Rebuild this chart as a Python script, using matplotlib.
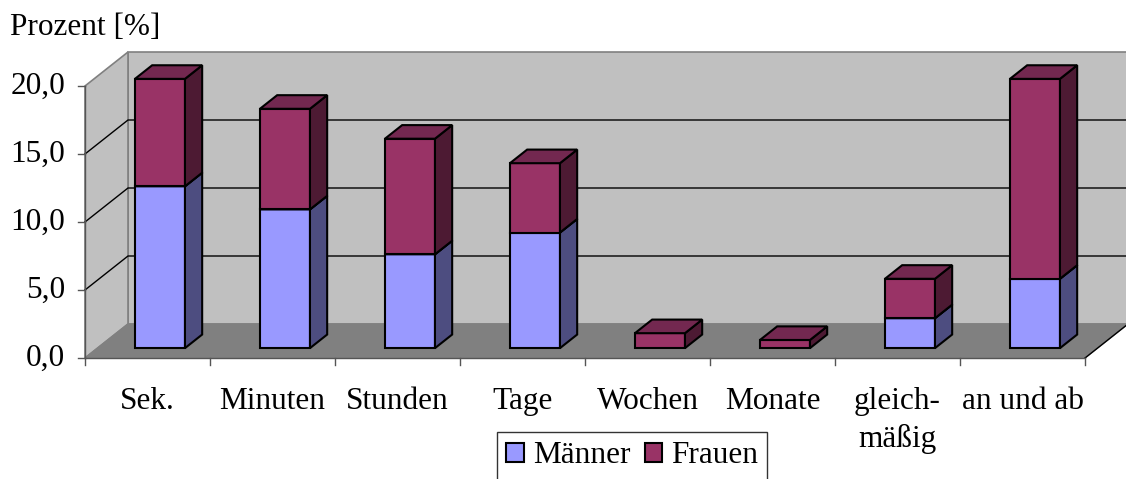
import matplotlib.pyplot as plt
from matplotlib.patches import Polygon, Patch

plt.rcParams['font.family'] = ['Liberation Serif', 'DejaVu Serif']

# data (percent)
categories = ['Sek.', 'Minuten', 'Stunden', 'Tage', 'Wochen', 'Monate', 'gleich-\nmäßig', 'an und ab']
maenner = [11.9, 10.2, 6.9, 8.5, 0.0, 0.0, 2.2, 5.1]
frauen = [7.9, 7.4, 8.5, 5.1, 1.1, 0.6, 2.9, 14.7]
y_ticks = [0, 5, 10, 15, 20]
y_tick_labels = ['0,0', '5,0', '10,0', '15,0', '20,0']

# colours (front, side, top)
col_m = ('#9999ff', '#4d4d80', '#7a7acc')
col_f = ('#993366', '#4d1a33', '#732850')

FS = 22.5

# pseudo-3D geometry: pixels per category / per percent, depth offset
PX_CAT = 125.0
PX_VAL = 13.6
W, H = 1126, 479
X0_PX, Y0_PX = 85, 358
DX = 43 / PX_CAT
DY = 34 / PX_VAL
D0, D1 = 0.29, 0.69
BAR_W = 0.4


def proj(x, y, d):
    return (x + d * DX, y + d * DY)


def add_poly(ax, pts, fc, ec='black', lw=1.5, z=2):
    ax.add_patch(Polygon(pts, closed=True, facecolor=fc, edgecolor=ec,
                         linewidth=lw, joinstyle='miter', zorder=z))


def draw_segment(ax, x0, x1, y0, y1, cols, z):
    front, side, top = cols
    add_poly(ax, [proj(x0, y0, D0), proj(x1, y0, D0), proj(x1, y1, D0), proj(x0, y1, D0)], front, z=z)
    add_poly(ax, [proj(x1, y0, D0), proj(x1, y0, D1), proj(x1, y1, D1), proj(x1, y1, D0)], side, z=z)
    add_poly(ax, [proj(x0, y1, D0), proj(x1, y1, D0), proj(x1, y1, D1), proj(x0, y1, D1)], top, z=z)


fig = plt.figure(figsize=(W / 100, H / 100), dpi=100)
ax = fig.add_axes([0, 0, 1, 1])
ax.set_xlim(-X0_PX / PX_CAT, (W - X0_PX) / PX_CAT)
ax.set_ylim((Y0_PX - H) / PX_VAL, Y0_PX / PX_VAL)
ax.axis('off')

n = len(categories)
ymax = y_ticks[-1]

# walls and floor
add_poly(ax, [proj(0, 0, 1), proj(n, 0, 1), proj(n, ymax, 1), proj(0, ymax, 1)],
         '#c0c0c0', ec='#808080', lw=1.2, z=0)
add_poly(ax, [proj(0, 0, 0), proj(0, 0, 1), proj(0, ymax, 1), proj(0, ymax, 0)],
         '#c0c0c0', ec='#808080', lw=1.2, z=0)
for v in y_ticks[1:-1]:
    xs, ys = zip(proj(0, v, 0), proj(0, v, 1), proj(n, v, 1))
    ax.plot(xs, ys, color='black', lw=1.0, zorder=0.5)
add_poly(ax, [proj(0, 0, 0), proj(n, 0, 0), proj(n, 0, 1), proj(0, 0, 1)],
         '#808080', ec='#808080', lw=1.0, z=1)
ax.plot([n, n + DX], [0, DY], color='black', lw=1.0, zorder=1.1)

# axes lines and ticks
tick_x = 7 / PX_CAT
tick_y = 7 / PX_VAL
ax.plot([0, 0], [0, ymax], color='#555555', lw=1.0, zorder=1.2)
ax.plot([0, n], [0, 0], color='#555555', lw=1.0, zorder=1.2)
for v, lab in zip(y_ticks, y_tick_labels):
    ax.plot([-tick_x, 0], [v, v], color='#555555', lw=1.0, zorder=1.2)
    ax.text(-0.16, v, lab, ha='right', va='center', fontsize=FS)
for i in range(n + 1):
    ax.plot([i, i], [0, -tick_y], color='#555555', lw=1.0, zorder=1.2)
for i, lab in enumerate(categories):
    ax.text(i + 0.5, -2.1, lab, ha='center', va='top', fontsize=FS, linespacing=1.35)

ax.text(-0.6, 24.3, 'Prozent [%]', ha='left', va='center', fontsize=FS)

# stacked bars
for i in range(n):
    x0 = i + 0.5 - BAR_W / 2
    x1 = i + 0.5 + BAR_W / 2
    z = 3 + i
    if maenner[i] > 0:
        draw_segment(ax, x0, x1, 0, maenner[i], col_m, z)
    if frauen[i] > 0:
        draw_segment(ax, x0, x1, maenner[i], maenner[i] + frauen[i], col_f, z + 0.5)

handles = [Patch(facecolor=col_m[0], edgecolor='black', lw=1.5, label='Männer'),
           Patch(facecolor=col_f[0], edgecolor='black', lw=1.5, label='Frauen')]
leg = ax.legend(handles=handles, ncol=2, loc='upper left',
                bbox_to_anchor=(497 / W, 1 - 432 / H), bbox_transform=fig.transFigure,
                fontsize=FS, frameon=True, fancybox=False, edgecolor='black',
                handlelength=0.55, handleheight=0.55, handletextpad=0.3,
                columnspacing=0.45, borderpad=0.3, borderaxespad=0)
leg.get_frame().set_linewidth(1.0)

fig.savefig('out.png', dpi=100)
